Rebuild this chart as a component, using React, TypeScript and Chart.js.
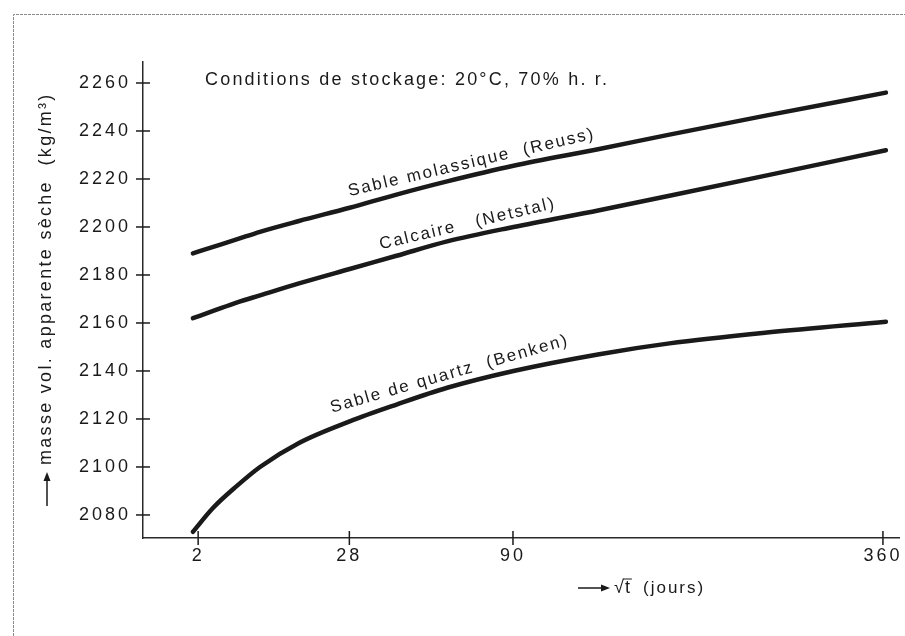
import { useEffect, useRef } from "react";
import { Chart, registerables } from "chart.js";

Chart.register(...registerables);

// x positions in sqrt(t) (t in days)
const SQRT_T = [1.28, 1.8, 2.4, 3.0, 4.0, 5.3, 6.5, 7.8, 9.5, 11.7, 13.5, 16.0, 19.05];
const MOLASSE = [2189, 2191.7, 2194.8, 2198, 2202.5, 2208, 2213.5, 2219, 2225.5, 2232.5, 2238.5, 2246.5, 2256];
const CALCAIRE = [2162, 2165, 2168.5, 2171.5, 2176.5, 2182.5, 2188, 2194, 2200, 2207, 2213, 2221.5, 2232];
const QUARTZ = [2073, 2083, 2092, 2100, 2110, 2119, 2126, 2133, 2140, 2147, 2151.5, 2156, 2160.5];

const SERIES_LABELS = ["Sable molassique  (Reuss)", "Calcaire   (Netstal)", "Sable de quartz  (Benken)"];
const LABEL_CENTER_SQRT_T = [8.5, 8.4, 7.95];

const TICK_DAYS = [2, 28, 90, 360];
const TICK_LABELS = ["2", "28", "90", "360"];
const Y_TICKS = [2080, 2100, 2120, 2140, 2160, 2180, 2200, 2220, 2240, 2260];

const NOTE = "Conditions de stockage: 20°C, 70% h. r.";
const Y_TITLE = "masse vol. apparente sèche  (kg/m³)";
const X_TITLE_UNIT = "(jours)";

const FONT = "'Liberation Sans', Arial, Helvetica, sans-serif";
const INK = "#1a1a1a";

function interp(xs: number[], ys: number[], x: number) {
  if (x <= xs[0]) return ys[0];
  for (let i = 1; i < xs.length; i++) {
    if (x <= xs[i]) {
      const f = (x - xs[i - 1]) / (xs[i] - xs[i - 1]);
      return ys[i - 1] + f * (ys[i] - ys[i - 1]);
    }
  }
  return ys[ys.length - 1];
}

function drawArrow(ctx: CanvasRenderingContext2D, x1: number, y1: number, x2: number, y2: number) {
  const ang = Math.atan2(y2 - y1, x2 - x1);
  ctx.save();
  ctx.strokeStyle = INK;
  ctx.fillStyle = INK;
  ctx.lineWidth = 1.5;
  ctx.beginPath();
  ctx.moveTo(x1, y1);
  ctx.lineTo(x2 - 6 * Math.cos(ang), y2 - 6 * Math.sin(ang));
  ctx.stroke();
  ctx.beginPath();
  ctx.moveTo(x2, y2);
  ctx.lineTo(x2 - 9 * Math.cos(ang) + 3.5 * Math.sin(ang), y2 - 9 * Math.sin(ang) - 3.5 * Math.cos(ang));
  ctx.lineTo(x2 - 9 * Math.cos(ang) - 3.5 * Math.sin(ang), y2 - 9 * Math.sin(ang) + 3.5 * Math.cos(ang));
  ctx.closePath();
  ctx.fill();
  ctx.restore();
}

const decorPlugin = {
  id: "decor",
  beforeDraw(chart: any) {
    const ctx = chart.ctx as any;
    ctx.letterSpacing = "3px";
  },
  afterDraw(chart: any) {
    const ctx = chart.ctx as any;
    const xs = chart.scales.x;
    const ys = chart.scales.y;
    ctx.save();
    // frame
    ctx.strokeStyle = "#8a8a8a";
    ctx.lineWidth = 1;
    ctx.setLineDash([3, 1]);
    ctx.beginPath();
    ctx.moveTo(13.5, 636);
    ctx.lineTo(13.5, 14.5);
    ctx.lineTo(905, 14.5);
    ctx.stroke();
    ctx.setLineDash([]);

    // tick crosses
    ctx.strokeStyle = INK;
    ctx.lineWidth = 1.5;
    const ax = chart.chartArea.left;
    const ay = chart.chartArea.bottom;
    Y_TICKS.forEach((v) => {
      const py = ys.getPixelForValue(v);
      ctx.beginPath();
      ctx.moveTo(ax - 7, py);
      ctx.lineTo(ax + 7, py);
      ctx.stroke();
    });
    TICK_DAYS.forEach((d) => {
      const px = xs.getPixelForValue(Math.sqrt(d));
      ctx.beginPath();
      ctx.moveTo(px, ay - 7);
      ctx.lineTo(px, ay + 7);
      ctx.stroke();
    });

    // note
    ctx.fillStyle = INK;
    ctx.letterSpacing = "2.2px";
    ctx.font = `18px ${FONT}`;
    ctx.textAlign = "left";
    ctx.textBaseline = "middle";
    ctx.fillText(NOTE, 205, 80);

    // curve labels
    const seriesData = [MOLASSE, CALCAIRE, QUARTZ];
    ctx.font = `17px ${FONT}`;
    ctx.letterSpacing = "2px";
    ctx.textAlign = "center";
    ctx.textBaseline = "alphabetic";
    seriesData.forEach((vals, i) => {
      const sc = LABEL_CENTER_SQRT_T[i];
      const pA = { x: xs.getPixelForValue(sc - 3), y: ys.getPixelForValue(interp(SQRT_T, vals, sc - 3)) };
      const pB = { x: xs.getPixelForValue(sc + 3), y: ys.getPixelForValue(interp(SQRT_T, vals, sc + 3)) };
      const cx = xs.getPixelForValue(sc);
      const cy = ys.getPixelForValue(interp(SQRT_T, vals, sc));
      const ang = Math.atan2(pB.y - pA.y, pB.x - pA.x);
      ctx.save();
      ctx.translate(cx, cy);
      ctx.rotate(ang);
      ctx.fillText(SERIES_LABELS[i], 0, -8);
      ctx.restore();
    });

    // y title
    ctx.save();
    ctx.font = `18px ${FONT}`;
    ctx.letterSpacing = "2.3px";
    ctx.translate(46, 465);
    ctx.rotate(-Math.PI / 2);
    ctx.textAlign = "left";
    ctx.textBaseline = "middle";
    ctx.fillText(Y_TITLE, 0, 0);
    ctx.restore();
    drawArrow(ctx, 47, 506, 47, 472);

    // x title
    const ty = 588;
    drawArrow(ctx, 578, ty, 610, ty);
    ctx.font = `18px ${FONT}`;
    ctx.letterSpacing = "0px";
    ctx.textAlign = "left";
    ctx.textBaseline = "middle";
    ctx.fillText("√", 614, ty);
    const rw = ctx.measureText("√").width;
    ctx.fillText("t", 614 + rw + 1, ty);
    const tw = ctx.measureText("t").width;
    ctx.lineWidth = 1;
    ctx.beginPath();
    ctx.moveTo(614 + rw - 1, ty - 9);
    ctx.lineTo(614 + rw + tw + 3, ty - 9);
    ctx.stroke();
    ctx.letterSpacing = "2px";
    ctx.font = `17px ${FONT}`;
    ctx.fillText(X_TITLE_UNIT, 643, ty);

    ctx.restore();
    ctx.letterSpacing = "0px";
  },
};

export default function App() {
  const ref = useRef<HTMLCanvasElement | null>(null);
  useEffect(() => {
    if (!ref.current) return;
    const lineStyle = {
      borderColor: INK,
      borderWidth: 4.5,
      pointRadius: 0,
      cubicInterpolationMode: "monotone" as const,
      borderCapStyle: "round" as const,
      fill: false,
    };
    const chart = new Chart(ref.current, {
      type: "line",
      data: {
        datasets: [
          { label: SERIES_LABELS[0], data: SQRT_T.map((x, i) => ({ x, y: MOLASSE[i] })), ...lineStyle },
          { label: SERIES_LABELS[1], data: SQRT_T.map((x, i) => ({ x, y: CALCAIRE[i] })), ...lineStyle },
          { label: SERIES_LABELS[2], data: SQRT_T.map((x, i) => ({ x, y: QUARTZ[i] })), ...lineStyle },
        ],
      },
      options: {
        responsive: false,
        animation: false,
        layout: { padding: { top: 62, right: 2, left: 0, bottom: 0 } },
        plugins: { legend: { display: false }, tooltip: { enabled: false }, title: { display: false } },
        scales: {
          x: {
            type: "linear",
            min: 0,
            max: 19.4,
            grid: { display: false, drawTicks: false },
            border: { display: true, color: "#2a2a2a", width: 1.5 },
            afterBuildTicks: (s: any) => {
              s.ticks = TICK_DAYS.map((d) => ({ value: Math.sqrt(d) }));
            },
            afterFit: (s: any) => {
              s.height = 98;
            },
            ticks: {
              autoSkip: false,
              maxRotation: 0,
              padding: 7,
              color: INK,
              font: { family: FONT, size: 18 },
              callback: (_v: any, i: number) => TICK_LABELS[i] ?? "",
            },
          },
          y: {
            type: "linear",
            min: 2070.4,
            max: 2268.75,
            grid: { display: false, drawTicks: false },
            border: { display: true, color: "#2a2a2a", width: 1.5 },
            afterBuildTicks: (s: any) => {
              s.ticks = Y_TICKS.map((v) => ({ value: v }));
            },
            afterFit: (s: any) => {
              s.width = 143;
            },
            ticks: {
              padding: 12,
              color: INK,
              font: { family: FONT, size: 18 },
              callback: (v: any) => String(v),
            },
          },
        },
      },
      plugins: [decorPlugin],
    });
    return () => chart.destroy();
  }, []);
  return (
    <div style={{ position: "fixed", left: 0, top: 0, width: 905, height: 636, background: "#fff" }}>
      <canvas ref={ref} width={905} height={636} style={{ display: "block" }} />
    </div>
  );
}
